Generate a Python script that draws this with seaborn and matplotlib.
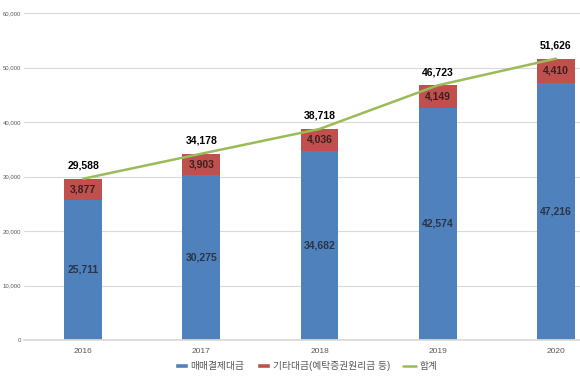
import matplotlib
matplotlib.use("Agg")
import matplotlib.pyplot as plt
from matplotlib.patches import Patch
from matplotlib.lines import Line2D
import seaborn as sns
import pandas as pd
import numpy as np

years = ["2016", "2017", "2018", "2019", "2020"]
trade = [25711, 30275, 34682, 42574, 47216]
other = [3877, 3903, 4036, 4149, 4410]
total = [29588, 34178, 38718, 46723, 51626]
yticks = [0, 10000, 20000, 30000, 40000, 50000, 60000]
legend_labels = ["매매결제대금", "기타대금(예탁증권원리금 등)", "합계"]

sns.set_theme(style="white")
plt.rcParams["font.family"] = ["Liberation Sans", "Noto Sans CJK KR", "DejaVu Sans"]

blue = "#4F81BD"
red = "#C0504D"
green = "#9BBB59"

fig = plt.figure(figsize=(5.8, 3.8), dpi=100)
ax = fig.add_axes([24/580, 40/380, 591/580, 327/380])

df = pd.DataFrame({"year": years, "trade": trade, "other": other, "total": total})
x = np.arange(len(years))
w = 0.32
sns.barplot(data=df, x="year", y="total", color=red, width=w, ax=ax, saturation=1, linewidth=0)
sns.barplot(data=df, x="year", y="trade", color=blue, width=w, ax=ax, saturation=1, linewidth=0)
ax.plot(x, total, color=green, lw=1.8, zorder=3)

for i in range(len(years)):
    ax.text(x[i], trade[i] / 2, f"{trade[i]:,}", ha="center", va="center",
            fontsize=7.5, fontweight="bold", color="#2A3446")
    ax.text(x[i], trade[i] + other[i] / 2, f"{other[i]:,}", ha="center", va="center",
            fontsize=7.5, fontweight="bold", color="#3A2020")
    ax.text(x[i], total[i] + 2400, f"{total[i]:,}", ha="center", va="center",
            fontsize=7.5, fontweight="bold", color="black")

ax.set_ylim(0, 60000)
ax.set_xlim(-0.5, 4.5)
ax.set_yticks(yticks)
ax.set_yticklabels([f"{v:,}" for v in yticks], fontsize=4.3, color="#595959")
ax.tick_params(axis="x", labelsize=6, colors="#595959", length=0, pad=6)
ax.tick_params(axis="y", length=0, pad=2)
ax.set_xlabel("")
ax.set_ylabel("")
ax.yaxis.grid(True, color="#D9D9D9", lw=0.8)
ax.set_axisbelow(True)
for s in ["top", "right", "left"]:
    ax.spines[s].set_visible(False)
ax.spines["bottom"].set_color("#D9D9D9")

handles = [Patch(facecolor=blue), Patch(facecolor=red), Line2D([0], [0], color=green, lw=1.8)]
fig.legend(handles, legend_labels, loc="center", bbox_to_anchor=(306/580, 1 - 366/380),
           ncol=3, frameon=False, fontsize=7, handlelength=1.35, handleheight=0.45,
           columnspacing=1.3, handletextpad=0.3, labelcolor="#595959",
           borderpad=0, borderaxespad=0)

fig.savefig("out.png", dpi=100)
